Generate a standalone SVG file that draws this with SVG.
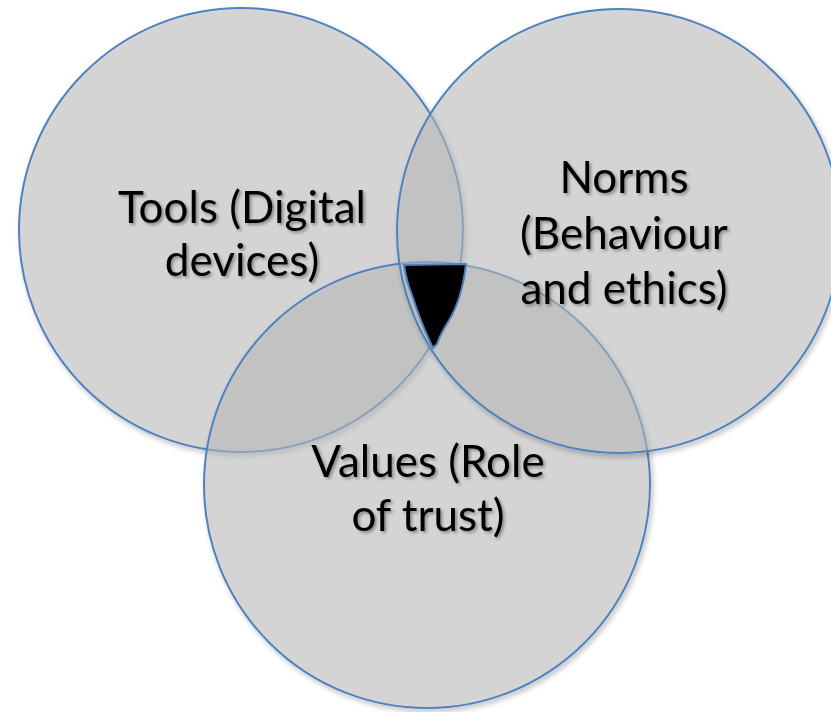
<svg xmlns="http://www.w3.org/2000/svg" width="831" height="712" viewBox="0 0 831 712">
<defs>
<filter id="csh" x="-10%" y="-10%" width="125%" height="125%">
<feGaussianBlur in="SourceAlpha" stdDeviation="2.5" result="b"/>
<feOffset in="b" dx="2" dy="3" result="o"/>
<feComposite in="o" in2="SourceAlpha" operator="out" result="s"/>
<feColorMatrix in="s" type="matrix" values="0 0 0 0 0  0 0 0 0 0  0 0 0 0 0  0 0 0 0.3 0" result="sc"/>
<feMerge><feMergeNode in="sc"/><feMergeNode in="SourceGraphic"/></feMerge>
</filter>
<filter id="tsh" x="-10%" y="-20%" width="130%" height="160%">
<feDropShadow dx="2" dy="2" stdDeviation="1.5" flood-color="#000" flood-opacity="0.35"/>
</filter>
<style>
.c{fill:rgb(186,186,186);fill-opacity:0.55;stroke:#4f81bd;stroke-width:2;filter:url(#csh)}
.t{font-family:Lato,"Open Sans","Liberation Sans",sans-serif;font-size:44px;fill:#000;text-anchor:middle;filter:url(#tsh)}
</style>
</defs>
<rect width="831" height="712" fill="#fff"/>
<g id="tools">
<circle class="c" cx="241" cy="230" r="222"/>
</g>
<g id="values">
<circle class="c" cx="427" cy="485" r="223"/>
</g>
<g id="norms">
<circle class="c" cx="619" cy="231" r="222"/>
</g>
<g id="core">
<path d="M404,265 L466,264 Q462,300 448,322 Q440,335 437,344 L433,348 L430,342 Q420,320 412,295 Q406,280 404,265 Z" fill="#000" stroke="#4f81bd" stroke-width="2" stroke-linejoin="round"/>
</g>
<g id="labels">
<text class="t" x="242" y="223">Tools (Digital</text>
<text class="t" x="242" y="276">devices)</text>
<text class="t" x="624" y="193">Norms</text>
<text class="t" x="624" y="249">(Behaviour</text>
<text class="t" x="624" y="304">and ethics)</text>
<text class="t" x="428" y="477">Values (Role</text>
<text class="t" x="428" y="531">of trust)</text>
</g>
<g id="connectors"/>
</svg>
